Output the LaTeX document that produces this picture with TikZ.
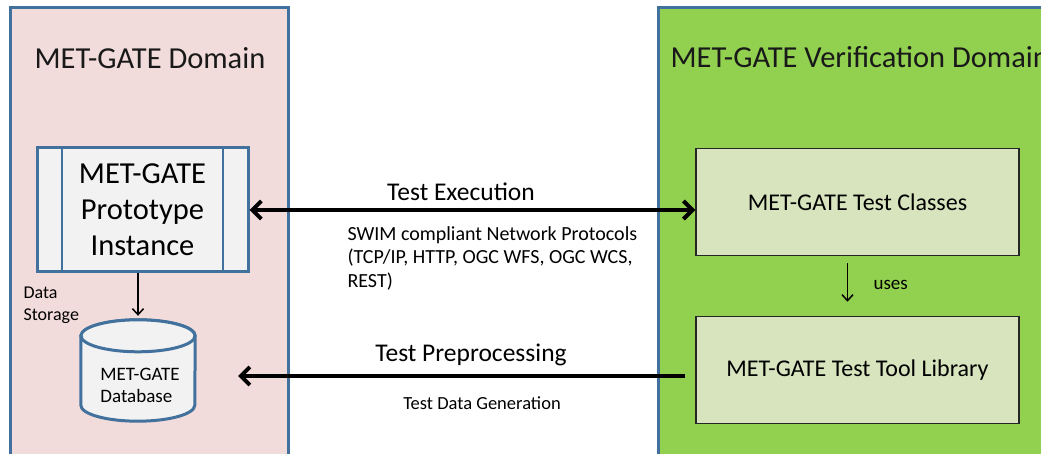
\documentclass[tikz,border=0pt]{standalone}
\usepackage{fontspec}
\setmainfont{Carlito}
\usetikzlibrary{arrows.meta, positioning, shapes.geometric}
\definecolor{domblue}{HTML}{41719C}
\definecolor{dompink}{HTML}{F2DCDB}
\definecolor{domgreen}{HTML}{92D050}
\definecolor{boxgreen}{HTML}{D7E4BD}
\definecolor{boxgrey}{HTML}{F2F2F2}
\tikzset{domframe/.style={draw=domblue,line width=3pt},
  domtitle/.style={font=\fontsize{30.5}{36}\selectfont,text=black!90},
  proto/.style={rectangle,draw=domblue,fill=boxgrey,line width=3pt,align=center,minimum width=211pt,minimum height=124pt,font=\fontsize{30.5}{36}\selectfont},
  testbox/.style={rectangle,draw=black!85,fill=boxgreen,line width=1.5pt,minimum width=323pt,minimum height=107pt,font=\fontsize{24}{28}\selectfont},
  dbbox/.style={rectangle,minimum width=114pt,minimum height=101pt,inner sep=0pt},
  dbline/.style={draw=domblue,fill=boxgrey,line width=3pt},
  dbtext/.style={align=left,font=\fontsize{19}{22}\selectfont},
  barb/.tip={Straight Barb[length=9pt,width=18pt]},
  flow/.style={-barb,line width=4pt},
  useline/.style={-{Straight Barb[length=6pt,width=11pt]},line width=1.5pt},
  bigtag/.style={font=\fontsize{25.5}{30}\selectfont},
  smalltag/.style={font=\fontsize{18}{22}\selectfont}}

\begin{document}
\begin{tikzpicture}[x=1pt,y=-1pt]
\clip (0,0) rectangle (1041,454);
\fill[white] (0,0) rectangle (1041,454);
% the two domains
\draw[domframe,fill=dompink] (10,8) rectangle (288,470);
\draw[domframe,fill=domgreen] (658,8) rectangle (1060,470);
\node[domtitle] (lefttitle) at (150,58) {MET-GATE Domain};
\node[domtitle,anchor=west] (righttitle) at (667,57) {MET-GATE Verification Domain};

% prototype side
\node[proto] (inst) at (142.5,210) {MET-GATE\\Prototype\\Instance};
\draw[domblue,line width=2pt] ([xshift=26pt]inst.north west) -- ([xshift=26pt]inst.south west);
\draw[domblue,line width=2pt] ([xshift=-27pt]inst.north east) -- ([xshift=-27pt]inst.south east);
% database drum
\node[dbbox] (store) at (138,370.5) {};
\draw[dbline] ([yshift=-16pt]store.north west) -- ([yshift=16pt]store.south west)
  arc[start angle=180,end angle=360,x radius=57pt,y radius=16pt]
  -- ([yshift=-16pt]store.north east)
  arc[start angle=0,end angle=180,x radius=57pt,y radius=16pt] -- cycle;
\draw[dbline] ([yshift=-16pt]store.north) ellipse[x radius=57pt,y radius=16pt];
\node[dbtext] (storename) at ([shift={(2,15)}]store.center) {MET-GATE\\Database};
\draw[useline] (inst.south -| store.north) -- ([yshift=4pt]store.north);
\node[smalltag,align=left,anchor=west] (storetag) at (20,305) {Data\\Storage};

% test side
\node[testbox] (classes) at (857.5,202) {MET-GATE Test Classes};
\node[testbox] (library) at (857.5,370) {MET-GATE Test Tool Library};
\draw[useline] ([shift={(-10,7)}]classes.south) -- ([shift={(-10,-14)}]library.north);
\node[font=\fontsize{19}{22}\selectfont,anchor=west] (uses) at (870,285) {uses};

% exchanges between the domains
\draw[flow,barb-barb] (inst.east) -- (inst.east -| classes.west);
\node[bigtag] (exec) at (461,192) {Test Execution};
\node[font=\fontsize{20}{23.5}\selectfont,align=left,anchor=north west] (swim) at (344,223) {SWIM compliant Network Protocols\\(TCP/IP, HTTP, OGC WFS, OGC WCS,\\REST)};
\coordinate (dbin) at (238,376);
\draw[flow] ([shift={(-10,6)}]library.west) -- (dbin);
\node[bigtag] (prep) at (471,355) {Test Preprocessing};
\node[font=\fontsize{18.5}{22}\selectfont] (gen) at (482,403) {Test Data Generation};
\end{tikzpicture}
\end{document}
